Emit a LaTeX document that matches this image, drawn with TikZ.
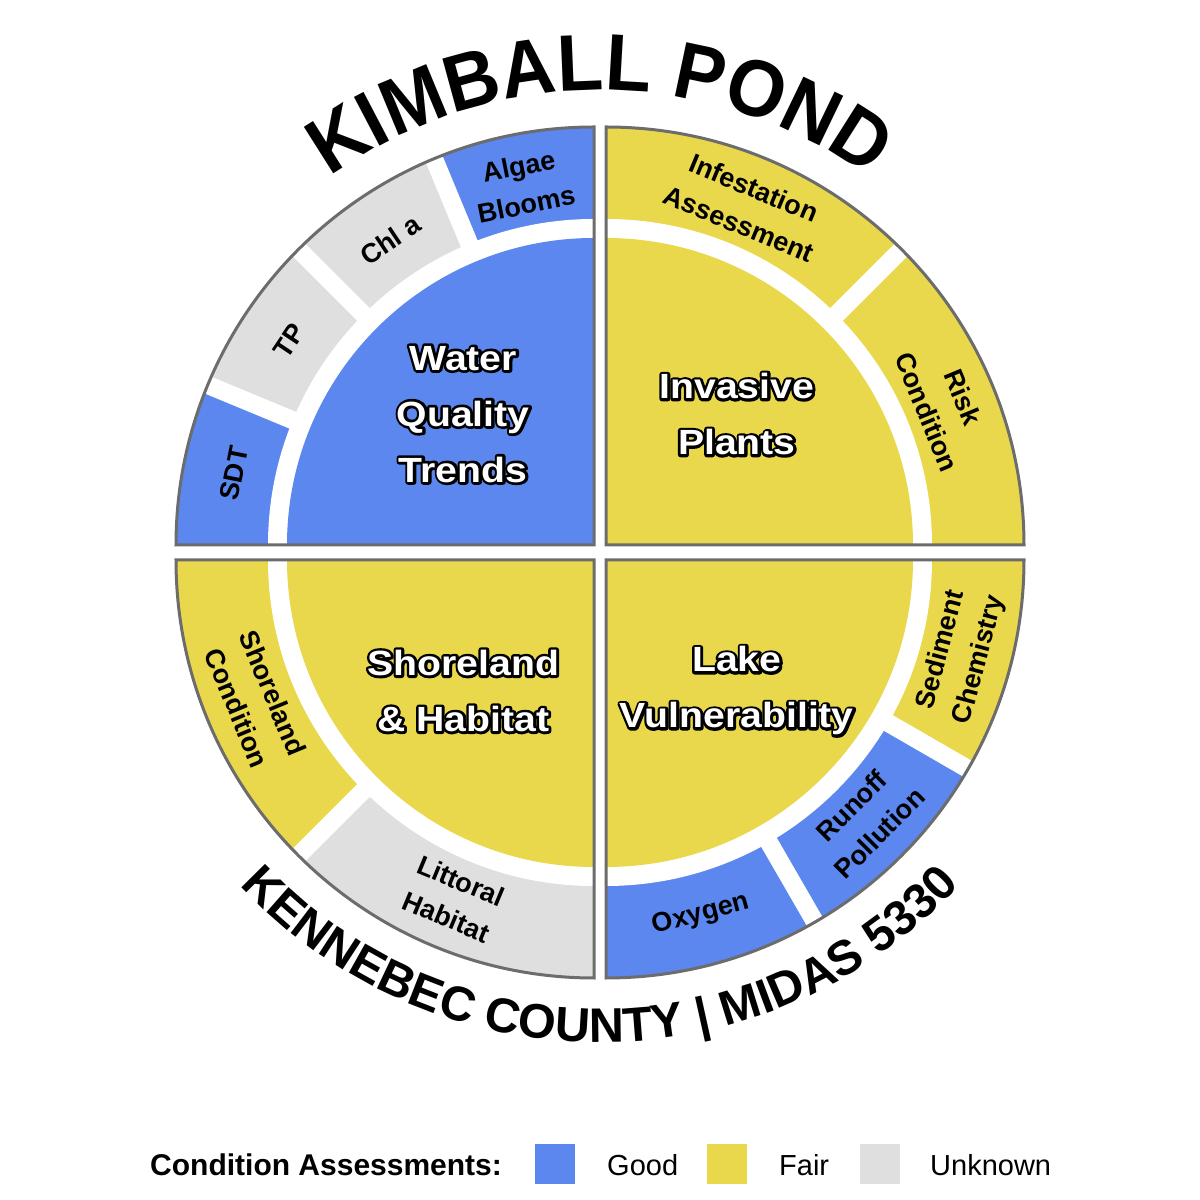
\documentclass[tikz,border=0pt]{standalone}
\usepackage{fontspec}
\setmainfont{Liberation Sans}
\newfontfamily\widefont[FakeStretch=1.12]{Liberation Sans}
\newfontfamily\titlefam[FakeStretch=0.94]{Liberation Sans}
\usetikzlibrary{decorations.text}
\definecolor{cblue}{RGB}{91,135,239}
\definecolor{cyellow}{RGB}{234,216,76}
\definecolor{cgray}{RGB}{223,223,223}
\definecolor{coutline}{RGB}{108,108,108}
\newcommand\halo[1]{\leavevmode\rlap{\color{black}\special{pdf:literal direct 2 Tr 1 j 5.4 w 0 0 0 RG}#1\special{pdf:literal direct 0 Tr}}{\color{white}#1}}
\newcommand\titlefont{\titlefam\fontsize{80}{90}\selectfont\bfseries}
\newcommand\subfont{\fontsize{48.5}{58}\selectfont\bfseries}
\def\Rout{418}
\def\Rring{326}
\def\Rdisc{307}
\def\Rgap{322}
\def\Rgapout{421}
\def\Rlab{367}
\def\Rin{185}
\tikzset{
  ringlab/.style={font=\fontsize{27}{39}\selectfont\bfseries, align=center, inner sep=0pt, text=black},
  innerlab/.style={font=\widefont\fontsize{35}{56}\selectfont\bfseries, align=center, inner sep=0pt},
  outl/.style={draw=coutline, line width=3pt, line join=miter},
  gapline/.style={draw=white, line width=18pt},
  legtxt/.style={font=\fontsize{29}{34}\selectfont, anchor=base west, inner sep=0pt},
  legbox/.style={minimum width=40pt, minimum height=40pt, inner sep=0pt, anchor=south west}
}
\begin{document}
\begin{tikzpicture}[x=1pt,y=1pt]
\useasboundingbox (0,0) rectangle (1200,1200);
\fill[white] (0,0) rectangle (1200,1200);

% ---------- top-left quadrant: Water Quality Trends ----------
\begin{scope}[shift={(594,655)}]
  \foreach \s/\e/\c in {90/112.5/cblue,112.5/135/cgray,135/157.5/cgray,157.5/180/cblue}
    \fill[\c] (0,0) -- (\s:\Rout) arc[start angle=\s,end angle=\e,radius=\Rout] -- cycle;
  \fill[white] (0,0) -- (90:\Rring) arc[start angle=90,end angle=180,radius=\Rring] -- cycle;
  \fill[cblue] (0,0) -- (90:\Rdisc) arc[start angle=90,end angle=180,radius=\Rdisc] -- cycle;
  \foreach \g in {112.5,135,157.5} \draw[gapline] (\g:\Rgap) -- (\g:\Rgapout);
  \draw[outl] (0,0) -- (90:\Rout) arc[start angle=90,end angle=180,radius=\Rout] -- cycle;
  \node[ringlab, rotate=11.25] (algae) at (101.25:\Rlab) {Algae\\Blooms};
  \node[ringlab, rotate=33.75] (chla) at (123.75:\Rlab) {Chl a};
  \node[ringlab, rotate=56.25] (tp) at (146.25:\Rlab) {TP};
  \node[ringlab, rotate=78.75] (sdt) at (168.75:\Rlab) {SDT};
  \node[innerlab] (wqt) at (135:\Rin) {\halo{Water}\\\halo{Quality}\\\halo{Trends}};
\end{scope}

% ---------- top-right quadrant: Invasive Plants ----------
\begin{scope}[shift={(606,655)}]
  \foreach \s/\e/\c in {0/45/cyellow,45/90/cyellow}
    \fill[\c] (0,0) -- (\s:\Rout) arc[start angle=\s,end angle=\e,radius=\Rout] -- cycle;
  \fill[white] (0,0) -- (0:\Rring) arc[start angle=0,end angle=90,radius=\Rring] -- cycle;
  \fill[cyellow] (0,0) -- (0:\Rdisc) arc[start angle=0,end angle=90,radius=\Rdisc] -- cycle;
  \draw[gapline] (45:\Rgap) -- (45:\Rgapout);
  \draw[outl] (0,0) -- (0:\Rout) arc[start angle=0,end angle=90,radius=\Rout] -- cycle;
  \node[ringlab, rotate=-22.5] (infest) at (67.5:\Rlab) {Infestation\\Assessment};
  \node[ringlab, rotate=-67.5] (risk) at (22.5:\Rlab) {Risk\\Condition};
  \node[innerlab] (inv) at (45:\Rin) {\halo{Invasive}\\\halo{Plants}};
\end{scope}

% ---------- bottom-left quadrant: Shoreland & Habitat ----------
\begin{scope}[shift={(594,640)}]
  \foreach \s/\e/\c in {180/225/cyellow,225/270/cgray}
    \fill[\c] (0,0) -- (\s:\Rout) arc[start angle=\s,end angle=\e,radius=\Rout] -- cycle;
  \fill[white] (0,0) -- (180:\Rring) arc[start angle=180,end angle=270,radius=\Rring] -- cycle;
  \fill[cyellow] (0,0) -- (180:\Rdisc) arc[start angle=180,end angle=270,radius=\Rdisc] -- cycle;
  \draw[gapline] (225:\Rgap) -- (225:\Rgapout);
  \draw[outl] (0,0) -- (180:\Rout) arc[start angle=180,end angle=270,radius=\Rout] -- cycle;
  \node[ringlab, rotate=-67.5] (shorec) at (202.5:\Rlab) {Shoreland\\Condition};
  \node[ringlab, rotate=-22.5] (litt) at (247.5:\Rlab) {Littoral\\Habitat};
  \node[innerlab] (shore) at (225:\Rin) {\halo{Shoreland}\\\halo{\& Habitat}};
\end{scope}

% ---------- bottom-right quadrant: Lake Vulnerability ----------
\begin{scope}[shift={(606,640)}]
  \foreach \s/\e/\c in {270/300/cblue,300/330/cblue,330/360/cyellow}
    \fill[\c] (0,0) -- (\s:\Rout) arc[start angle=\s,end angle=\e,radius=\Rout] -- cycle;
  \fill[white] (0,0) -- (270:\Rring) arc[start angle=270,end angle=360,radius=\Rring] -- cycle;
  \fill[cyellow] (0,0) -- (270:\Rdisc) arc[start angle=270,end angle=360,radius=\Rdisc] -- cycle;
  \foreach \g in {300,330} \draw[gapline] (\g:\Rgap) -- (\g:\Rgapout);
  \draw[outl] (0,0) -- (270:\Rout) arc[start angle=270,end angle=360,radius=\Rout] -- cycle;
  \node[ringlab, rotate=75] (sed) at (345:\Rlab) {Sediment\\Chemistry};
  \node[ringlab, rotate=45] (runoff) at (315:\Rlab) {Runoff\\Pollution};
  \node[ringlab, rotate=15] (oxy) at (285:\Rlab) {Oxygen};
  \node[innerlab] (lake) at (315:\Rin) {\halo{Lake}\\\halo{Vulnerability}};
\end{scope}

% ---------- curved title texts ----------
\begin{scope}[shift={(600,647.5)}]
  \path[decorate, decoration={text along path, text={|\titlefont|KIMBALL POND}, text align=center}]
    (150:462) arc[start angle=150, end angle=30, radius=462];
  \path[decorate, decoration={text along path, text={|\subfont|KENNEBEC COUNTY {\textbar} MIDAS 5330}, text align=center}]
    (210:490) arc[start angle=210, end angle=330, radius=490];
\end{scope}

% ---------- legend ----------
\node[font=\fontsize{30}{34}\selectfont\bfseries, anchor=base west, inner sep=0pt] (legtitle) at (150,24) {Condition Assessments:};
\node[legbox, fill=cblue] (lgood) at (535,16) {};
\node[legtxt] (tgood) at (607,24) {Good};
\node[legbox, fill=cyellow] (lfair) at (707,16) {};
\node[legtxt] (tfair) at (779,24) {Fair};
\node[legbox, fill=cgray] (lunk) at (860,16) {};
\node[legtxt] (tunk) at (930,24) {Unknown};
\end{tikzpicture}
\end{document}
